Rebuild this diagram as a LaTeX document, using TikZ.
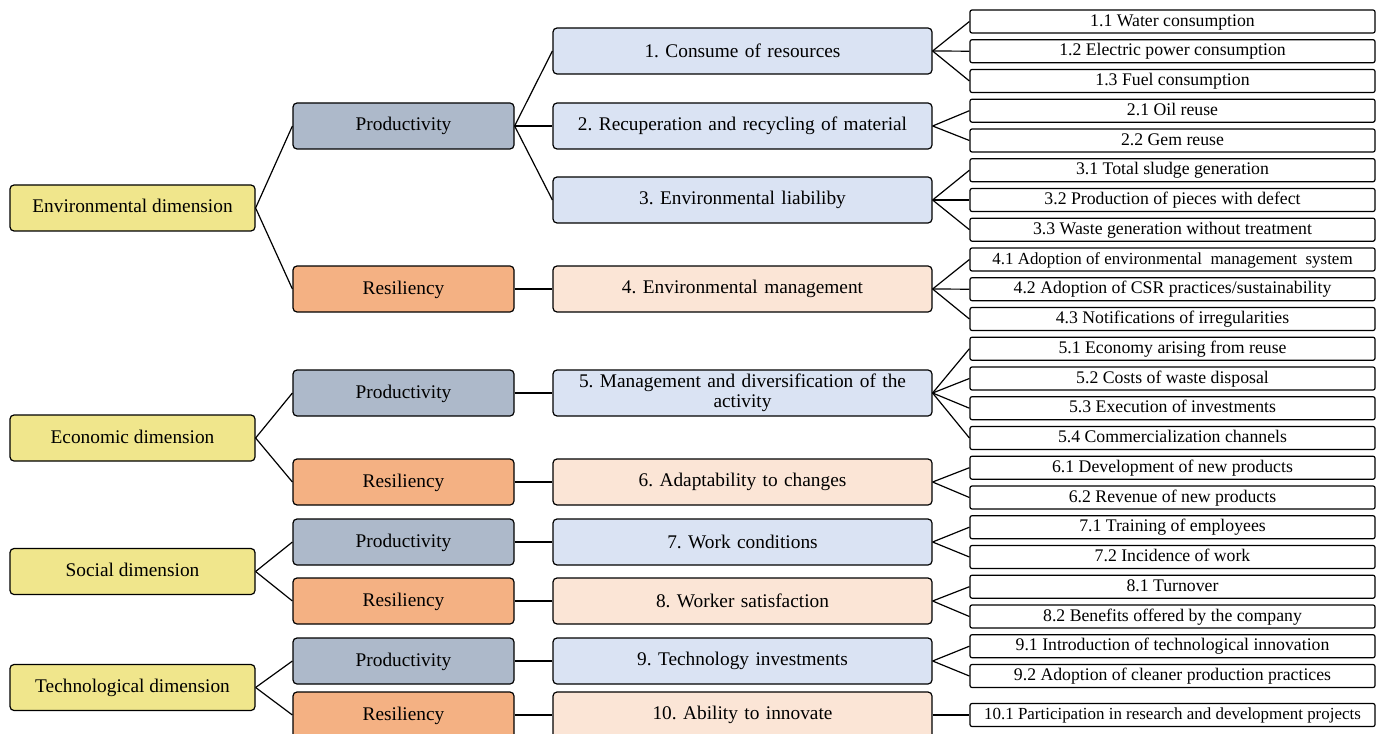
\documentclass[tikz,border=0pt]{standalone}
\usepackage{fontspec}
\setmainfont{Liberation Serif}
\usepackage{tikz}
\usetikzlibrary{positioning}
\frenchspacing
\definecolor{dimyellow}{HTML}{F0E68C}
\definecolor{prodgray}{HTML}{ADB9CA}
\definecolor{resorange}{HTML}{F4B183}
\definecolor{critblue}{HTML}{DAE3F3}
\definecolor{critpeach}{HTML}{FBE5D6}
\tikzstyle{line} = [draw, line width=0.9pt]
\tikzstyle{dimbox} = [rectangle, draw, line width=0.9pt, rounded corners=3pt,
                      fill=dimyellow, minimum width=183.75pt, minimum height=34.5pt,
                      inner sep=0pt, text height=11pt, text depth=3.5pt,
                      font=\fontsize{14.5}{16}\selectfont]
\tikzstyle{aspect} = [rectangle, draw, line width=0.9pt, rounded corners=3pt,
                      minimum width=165.75pt, minimum height=34.5pt,
                      inner sep=0pt, text height=11pt, text depth=3.5pt,
                      font=\fontsize{14.5}{16}\selectfont]
\tikzstyle{prod} = [aspect, fill=prodgray]
\tikzstyle{res} = [aspect, fill=resorange]
\tikzstyle{crit} = [rectangle, draw, line width=0.9pt, rounded corners=3pt,
                    text width=280pt, align=center, minimum width=284.25pt,
                    minimum height=34.5pt, inner sep=0pt,
                    font=\fontsize{14.5}{15}\selectfont]
\tikzstyle{critp} = [crit, fill=critblue]
\tikzstyle{critr} = [crit, fill=critpeach]
\tikzstyle{ind} = [rectangle, draw, line width=0.9pt, rounded corners=1.5pt,
                   fill=white, minimum width=303.75pt, minimum height=17.25pt,
                   inner sep=0pt, text height=10pt, text depth=3pt,
                   font=\fontsize{13.3}{14}\selectfont]
\tikzstyle{indsmall} = [ind, font=\fontsize{12.7}{14}\selectfont]

\begin{document}
\begin{tikzpicture}[x=0.75pt, y=-0.75pt]
\useasboundingbox (0,0) rectangle (1387,734);

% dimensions
\node [dimbox] (env) at (132.5,208) {Environmental dimension};
\node [dimbox] (eco) at (132.5,438) {Economic dimension};
\node [dimbox] (soc) at (132.5,571.5) {Social dimension};
\node [dimbox] (tec) at (132.5,687.5) {Technological dimension};

% aspects
\node [prod] (envP) at (403.5,126) {Productivity};
\node [res]  (envR) at (403.5,289) {Resiliency};
\node [prod] (ecoP) at (403.5,393) {Productivity};
\node [res]  (ecoR) at (403.5,482) {Resiliency};
\node [prod] (socP) at (403.5,542) {Productivity};
\node [res]  (socR) at (403.5,601) {Resiliency};
\node [prod] (tecP) at (403.5,661) {Productivity};
\node [res]  (tecR) at (403.5,715) {Resiliency};

% criteria
\node [critp] (c1) at (742.5,51) {1. Consume of resources};
\node [critp] (c2) at (742.5,126) {2. Recuperation and recycling of material};
\node [critp] (c3) at (742.5,200) {3. Environmental liabiliby};
\node [critr] (c4) at (742.5,289) {4. Environmental management};
\node [critp] (c5) at (742.5,393) {5. Management and diversification of the\\ activity};
\node [critr] (c6) at (742.5,482) {6. Adaptability to changes};
\node [critp] (c7) at (742.5,542) {7. Work conditions};
\node [critr] (c8) at (742.5,601) {8. Worker satisfaction};
\node [critp] (c9) at (742.5,661) {9. Technology investments};
\node [critr] (c10) at (742.5,715) {10. Ability to innovate};

% indicators
\node [ind] (i11) at (1172.5,21.5) {1.1 Water consumption};
\node [ind] (i12) at (1172.5,51.2) {1.2 Electric power consumption};
\node [ind] (i13) at (1172.5,81) {1.3 Fuel consumption};
\node [ind] (i21) at (1172.5,110.7) {2.1 Oil reuse};
\node [ind] (i22) at (1172.5,140.5) {2.2 Gem reuse};
\node [ind] (i31) at (1172.5,170.2) {3.1 Total sludge generation};
\node [ind] (i32) at (1172.5,200) {3.2 Production of pieces with defect};
\node [ind] (i33) at (1172.5,229.7) {3.3 Waste generation without treatment};
\node [indsmall] (i41) at (1172.5,259.5) {4.1 Adoption of environmental\ \ management\ \ system};
\node [ind] (i42) at (1172.5,289.2) {4.2 Adoption of CSR practices/sustainability};
\node [ind] (i43) at (1172.5,319) {4.3 Notifications of irregularities};
\node [ind] (i51) at (1172.5,348.7) {5.1 Economy arising from reuse};
\node [ind] (i52) at (1172.5,378.5) {5.2 Costs of waste disposal};
\node [ind] (i53) at (1172.5,408.2) {5.3 Execution of investments};
\node [ind] (i54) at (1172.5,438) {5.4 Commercialization channels};
\node [ind] (i61) at (1172.5,467.7) {6.1 Development of new products};
\node [ind] (i62) at (1172.5,497.5) {6.2 Revenue of new products};
\node [ind] (i71) at (1172.5,527.2) {7.1 Training of employees};
\node [ind] (i72) at (1172.5,557) {7.2 Incidence of work};
\node [ind] (i81) at (1172.5,586.7) {8.1 Turnover};
\node [ind] (i82) at (1172.5,616.5) {8.2 Benefits offered by the company};
\node [ind] (i91) at (1172.5,646.2) {9.1 Introduction of technological innovation};
\node [ind] (i92) at (1172.5,676) {9.2 Adoption of cleaner production practices};
\node [indsmall] (i101) at (1172.5,715) {10.1 Participation in research and development projects};

% dimension -> aspect
\path [line] (env.east) -- (envP.west);
\path [line] (env.east) -- (envR.west);
\path [line] (eco.east) -- (ecoP.west);
\path [line] (eco.east) -- (ecoR.west);
\path [line] (soc.east) -- (socP.west);
\path [line] (soc.east) -- (socR.west);
\path [line] (tec.east) -- (tecP.west);
\path [line] (tec.east) -- (tecR.west);

% aspect -> criterion
\path [line] (envP.east) -- (c1.west);
\path [line] (envP.east) -- (c2.west);
\path [line] (envP.east) -- (c3.west);
\path [line] (envR.east) -- (c4.west);
\path [line] (ecoP.east) -- (c5.west);
\path [line] (ecoR.east) -- (c6.west);
\path [line] (socP.east) -- (c7.west);
\path [line] (socR.east) -- (c8.west);
\path [line] (tecP.east) -- (c9.west);
\path [line] (tecR.east) -- (c10.west);

% criterion -> indicator
\foreach \c/\i in {c1/i11,c1/i12,c1/i13,c2/i21,c2/i22,c3/i31,c3/i32,c3/i33,
                   c4/i41,c4/i42,c4/i43,c5/i51,c5/i52,c5/i53,c5/i54,
                   c6/i61,c6/i62,c7/i71,c7/i72,c8/i81,c8/i82,c9/i91,c9/i92,c10/i101}
  \path [line] (\c.east) -- (\i.west);

\end{tikzpicture}
\end{document}
